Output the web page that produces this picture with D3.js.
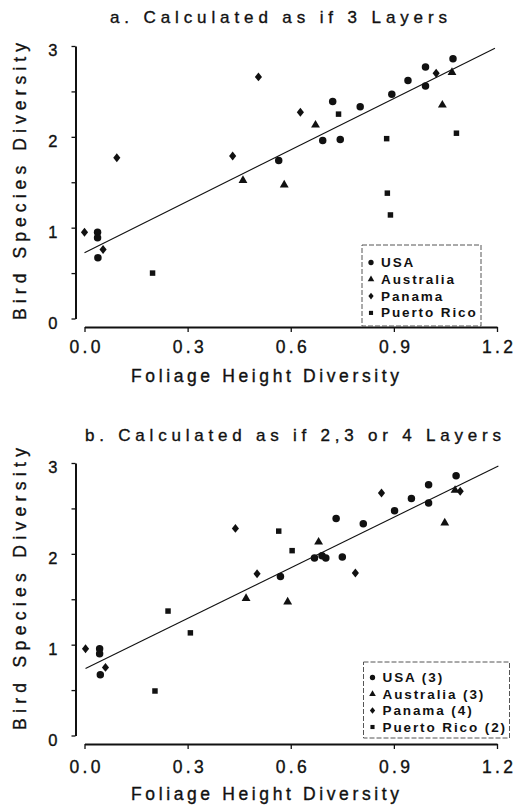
<!DOCTYPE html>
<html>
<head>
<meta charset="utf-8">
<script src="https://cdn.jsdelivr.net/npm/d3@7"></script>
<style>
  html, body { margin: 0; padding: 0; background: #fff; }
  svg { display: block; font-family: "Liberation Sans", Arial, Helvetica, sans-serif; }
  .axis path, .axis line { stroke: #111; }
  .axis text, .lbl { fill: #111; stroke: #111; stroke-width: 0.35; }
</style>
</head>
<body>
<div id="chart"></div>
<script>
/* Foliage height diversity vs bird species diversity — two panels */

const xTicks = [0, 0.3, 0.6, 0.9, 1.2];
const yTicks = [0, 0.5, 1, 1.5, 2, 2.5, 3];

// panel a: calculated as if 3 layers
const usaA = [[0.038, 0.95], [0.038, 0.89], [0.039, 0.67], [0.565, 1.74], [0.693, 1.96], [0.722, 2.39],
  [0.744, 1.97], [0.802, 2.33], [0.894, 2.47], [0.941, 2.62], [0.992, 2.77], [0.992, 2.56], [1.072, 2.86]];
const ausA = [[0.461, 1.52], [0.581, 1.47], [0.672, 2.13], [1.041, 2.35], [1.069, 2.71]];
const panA = [[0.0, 0.95], [0.054, 0.76], [0.094, 1.77], [0.431, 1.79], [0.506, 2.66], [0.628, 2.27], [1.023, 2.70]];
const prA = [[0.198, 0.50], [0.739, 2.25], [0.879, 1.98], [0.881, 1.38], [0.890, 1.14], [1.082, 2.04]];
const fitA = [[0.0, 0.725], [1.194, 2.976]];

// panel b: calculated as if 2,3 or 4 layers
const usaB = [[0.044, 0.955], [0.044, 0.90], [0.046, 0.67], [0.570, 1.75], [0.669, 1.955], [0.691, 1.98],
  [0.702, 1.955], [0.732, 2.39], [0.750, 1.965], [0.811, 2.33], [0.902, 2.475], [0.951, 2.61],
  [1.001, 2.76], [1.001, 2.56], [1.081, 2.86]];
const ausB = [[0.470, 1.51], [0.591, 1.47], [0.681, 2.13], [1.048, 2.34], [1.078, 2.70]];
const panB = [[0.003, 0.955], [0.061, 0.75], [0.439, 2.28], [0.502, 1.78], [0.788, 1.79], [0.864, 2.67], [1.093, 2.69]];
const prB = [[0.205, 0.49], [0.243, 1.37], [0.308, 1.13], [0.565, 2.25], [0.604, 2.035]];
const fitB = [[0.003, 0.738], [1.204, 2.967]];

const legendA = ["USA", "Australia", "Panama", "Puerto Rico"];
const legendB = ["USA (3)", "Australia (3)", "Panama (4)", "Puerto Rico (2)"];

/* 菱形 */
const diamondType = {
  draw(ctx, size) {
    const r = Math.sqrt(size / 2);
    ctx.moveTo(0, -r); ctx.lineTo(r * 0.8, 0); ctx.lineTo(0, r); ctx.lineTo(-r * 0.8, 0); ctx.closePath();
  }
};
const shapes = [d3.symbolCircle, d3.symbolTriangle, diamondType, d3.symbolSquare];
const sizes = [44, 34, 40, 30];
const legSizes = [22, 19, 22, 17];

const W = 515, H = 805;
const svg = d3.select("#chart").append("svg").attr("width", W).attr("height", H);

const x = d3.scaleLinear().domain([0, 1.2]).range([84.5, 497]);

function label(g, t, x0, y0, len, size) {
  return g.append("text").attr("class", "lbl").attr("x", x0).attr("y", y0)
    .attr("font-size", size).attr("textLength", len).attr("lengthAdjust", "spacing").text(t);
}

function panel(cfg) {
  const dy = cfg.dy;
  const y = d3.scaleLinear().domain([0, 3]).range([318.5 + dy, 46 + dy]);
  const g = svg.append("g");

  label(g, cfg.title, cfg.titleX[0], cfg.titleY, cfg.titleX[1] - cfg.titleX[0], 17);

  /* x 軸 */
  const gx = g.append("g").attr("class", "axis").attr("transform", `translate(0,${327 + dy})`)
    .call(d3.axisBottom(x).tickValues(xTicks).tickFormat(d3.format(".1f"))
      .tickSize(5).tickSizeOuter(0).tickPadding(cfg.xPad));
  gx.attr("font-size", null).attr("font-family", null);
  gx.select(".domain").attr("stroke-width", 2);
  gx.selectAll("line").attr("stroke-width", 1.3);
  gx.selectAll("text").attr("font-size", 17.5).attr("textLength", 31).attr("lengthAdjust", "spacing");

  label(g, "Foliage Height Diversity", 131, cfg.xTitleY, 268, 17.5);

  /* y 軸 */
  const gy = g.append("g").attr("class", "axis").attr("transform", "translate(75.5,0)")
    .call(d3.axisLeft(y).tickValues(yTicks).tickFormat(d => Number.isInteger(d) ? d : "")
      .tickSize(4).tickSizeOuter(0).tickPadding(14));
  gy.attr("font-size", null).attr("font-family", null);
  gy.select(".domain").attr("stroke-width", 2);
  gy.selectAll("line").attr("stroke-width", 1.3);
  gy.selectAll("text").attr("font-size", 16.5).attr("dy", "0.6em");

  g.append("text").attr("class", "lbl")
    .attr("transform", `translate(25.5,${cfg.yTitle[0]}) rotate(-90)`)
    .attr("font-size", 17.5).attr("textLength", cfg.yTitle[0] - cfg.yTitle[1])
    .attr("lengthAdjust", "spacing").text("Bird Species Diversity");

  /* 迴歸線 */
  g.append("path").attr("d", d3.line().x(d => x(d[0])).y(d => y(d[1]))(cfg.fit))
    .attr("fill", "none").attr("stroke", "#111").attr("stroke-width", 1.1);

  /* 點 */
  cfg.series.forEach((s, i) => {
    g.append("g").selectAll("path").data(s).join("path")
      .attr("transform", d => `translate(${x(d[0])},${y(d[1])})`)
      .attr("d", d3.symbol().type(shapes[i]).size(sizes[i]))
      .attr("fill", "#111");
  });

  /* 圖例 */
  const L = cfg.legend;
  g.append("rect").attr("x", L.x).attr("y", L.y + dy).attr("width", L.w).attr("height", L.h)
    .attr("fill", "#fff").attr("stroke", "#555").attr("stroke-width", 1).attr("stroke-dasharray", "5 2");
  cfg.labels.forEach((t, i) => {
    const cy = L.y + dy + L.first + i * L.step;
    g.append("path").attr("transform", `translate(${L.x + 9},${cy - 4.5})`)
      .attr("d", d3.symbol().type(shapes[i]).size(legSizes[i])).attr("fill", "#111");
    g.append("text").attr("x", L.x + 19).attr("y", cy)
      .attr("font-size", 13.5).attr("font-weight", "bold").attr("letter-spacing", 1.9)
      .attr("fill", "#111").text(t);
  });
}

panel({
  dy: 0, title: "a. Calculated as if 3 Layers", titleX: [110, 447], titleY: 23,
  xPad: 9, xTitleY: 382, yTitle: [320, 43], fit: fitA,
  series: [usaA, ausA, panA, prA], labels: legendA,
  legend: { x: 362, y: 245, w: 119, h: 81, first: 22, step: 16.8 }
});
panel({
  dy: 417, title: "b. Calculated as if 2,3 or 4 Layers", titleX: [85, 501], titleY: 441,
  xPad: 12, xTitleY: 800, yTitle: [730, 448], fit: fitB,
  series: [usaB, ausB, panB, prB], labels: legendB,
  legend: { x: 363.5, y: 245, w: 146, h: 76, first: 20, step: 16.5 }
});
</script>
</body>
</html>
